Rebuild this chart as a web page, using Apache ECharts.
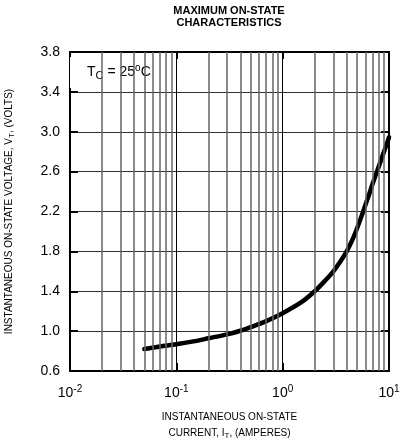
<!DOCTYPE html>
<html>
<head>
<meta charset="utf-8">
<script src="https://cdn.jsdelivr.net/npm/echarts@6/dist/echarts.min.js"></script>
<style>
    html, body { margin: 0; padding: 0; background: #fff; }
    #chart { width: 402px; height: 441px; }
</style>
</head>
<body>
<div id="chart"></div>
<script>
    // instantaneous on-state current (A) and voltage (V)
    const currentAmps = [0.05, 0.07, 0.1, 0.15, 0.2, 0.3, 0.4, 0.5, 0.7, 1.0, 1.5, 2.0, 2.5, 3.0, 3.5,
        4.0, 4.5, 5.0, 5.5, 6.0, 6.5, 7.0, 7.5, 8.0, 8.5, 9.0, 9.5, 10];
    const voltageVolts = [0.82, 0.845, 0.868, 0.90, 0.928, 0.968, 1.004, 1.04, 1.10, 1.18, 1.29, 1.40, 1.505, 1.60, 1.70,
        1.80, 1.91, 2.03, 2.15, 2.265, 2.37, 2.475, 2.565, 2.65, 2.73, 2.805, 2.875, 2.945];

    // log-paper minor grid lines
    const minorGridAmps = [0.02, 0.03, 0.04, 0.05, 0.06, 0.07, 0.08, 0.09,
        0.2, 0.3, 0.4, 0.5, 0.6, 0.7, 0.8, 0.9,
        2, 3, 4, 5, 6, 7, 8, 9];

    // white note box in the top-left corner
    const noteBoxAmps = [0.01, 0.073];
    const noteBoxVolts = [3.44, 3.75];

    const font = '"Liberation Sans", Arial, sans-serif';
    const chart = echarts.init(document.getElementById("chart"));

    function powerLabel(v) {
        const e = Math.round(Math.log10(v));
        return "{b|10}{s|" + e + "}";
    }

    chart.setOption({
        animation: false,
        graphic: [
            {
                type: "text",
                x: 229,
                y: 5,
                style: {
                    text: "MAXIMUM ON-STATE\nCHARACTERISTICS",
                    textAlign: "center",
                    fontSize: 11,
                    fontWeight: "bold",
                    fontFamily: font,
                    lineHeight: 12,
                    fill: "#000"
                }
            }
        ],
        grid: {
            left: 70,
            right: 13,
            top: 52,
            bottom: 70,
            containLabel: false,
            outerBoundsMode: "none"
        },
        xAxis: [
            {
                type: "log",
                logBase: 10,
                min: 0.01,
                max: 10,
                position: "bottom",
                axisLine: { show: true, lineStyle: { color: "#000", width: 2 } },
                axisTick: { show: true, inside: true, length: 8, lineStyle: { color: "#000", width: 2 } },
                splitLine: { show: true, lineStyle: { color: "#000", width: 1 } },
                axisLabel: {
                    formatter: powerLabel,
                    margin: 13,
                    color: "#000",
                    rich: {
                        b: { fontSize: 14, fontFamily: font, color: "#000" },
                        s: { fontSize: 10, fontFamily: font, color: "#000", padding: [0, 0, 9, 0] }
                    }
                },
                name: "{n|INSTANTANEOUS ON-STATE}\n{n|CURRENT, I}{sub|T}{n|, (AMPERES)}",
                nameLocation: "middle",
                nameGap: 38,
                nameTextStyle: {
                    rich: {
                        n: { fontSize: 10, fontFamily: font, color: "#000", lineHeight: 16 },
                        sub: { fontSize: 8, fontFamily: font, color: "#000", padding: [6, 0, 0, 0] }
                    }
                }
            },
            {
                type: "log",
                logBase: 10,
                min: 0.01,
                max: 10,
                position: "top",
                axisLine: { show: true, lineStyle: { color: "#000", width: 2 } },
                axisTick: { show: true, inside: true, length: 7, lineStyle: { color: "#000", width: 2 } },
                axisLabel: { show: false },
                splitLine: { show: false }
            }
        ],
        yAxis: [
            {
                type: "value",
                min: 0.6,
                max: 3.8,
                interval: 0.4,
                position: "left",
                axisLine: { show: true, lineStyle: { color: "#000", width: 2 } },
                axisTick: { show: true, inside: true, length: 8, lineStyle: { color: "#000", width: 2 } },
                splitLine: { show: true, lineStyle: { color: "#333", width: 1.2 } },
                axisLabel: {
                    formatter: (v) => v.toFixed(1),
                    fontSize: 14,
                    fontFamily: font,
                    color: "#000",
                    margin: 10
                },
                name: "{n|INSTANTANEOUS ON-STATE VOLTAGE, V}{sub|T}{n|, (VOLTS)}",
                nameLocation: "middle",
                nameRotate: 90,
                nameGap: 54,
                nameTextStyle: {
                    rich: {
                        n: { fontSize: 10, fontFamily: font, color: "#000" },
                        sub: { fontSize: 8, fontFamily: font, color: "#000", padding: [6, 0, 0, 0] }
                    }
                }
            },
            {
                type: "value",
                min: 0.6,
                max: 3.8,
                interval: 0.4,
                position: "right",
                axisLine: { show: true, lineStyle: { color: "#000", width: 2 } },
                axisTick: { show: true, inside: true, length: 8, lineStyle: { color: "#000", width: 2 } },
                axisLabel: { show: false },
                splitLine: { show: false }
            }
        ],
        series: [
            {
                name: "minor grid",
                type: "line",
                data: [],
                z: 1,
                silent: true,
                markLine: {
                    silent: true,
                    symbol: "none",
                    animation: false,
                    label: { show: false },
                    lineStyle: { color: "#666", width: 1.5, type: "solid", opacity: 1 },
                    data: minorGridAmps.map((v) => ({ xAxis: v }))
                }
            },
            {
                name: "note",
                type: "line",
                data: [],
                z: 3,
                silent: true,
                markArea: {
                    silent: true,
                    itemStyle: { color: "#fff", opacity: 1 },
                    label: {
                        show: true,
                        position: "inside",
                        offset: [3, 0],
                        formatter: "{n|T}{sub|C}{n| = 25}{sup|o}{n|C}",
                        rich: {
                            n: { fontSize: 14, fontFamily: font, color: "#000" },
                            sub: { fontSize: 11, fontFamily: font, color: "#000", padding: [7, 0, 0, 0] },
                            sup: { fontSize: 10, fontFamily: font, color: "#000", padding: [0, 0, 8, 0] }
                        }
                    },
                    data: [[
                        { coord: [noteBoxAmps[0], noteBoxVolts[0]] },
                        { coord: [noteBoxAmps[1], noteBoxVolts[1]] }
                    ]]
                }
            },
            {
                name: "VT",
                type: "line",
                smooth: 0.3,
                showSymbol: false,
                z: 4,
                lineStyle: { color: "#000", width: 4.5, join: "round", cap: "round" },
                data: currentAmps.map((c, i) => [c, voltageVolts[i]])
            }
        ]
    });
</script>
</body>
</html>
